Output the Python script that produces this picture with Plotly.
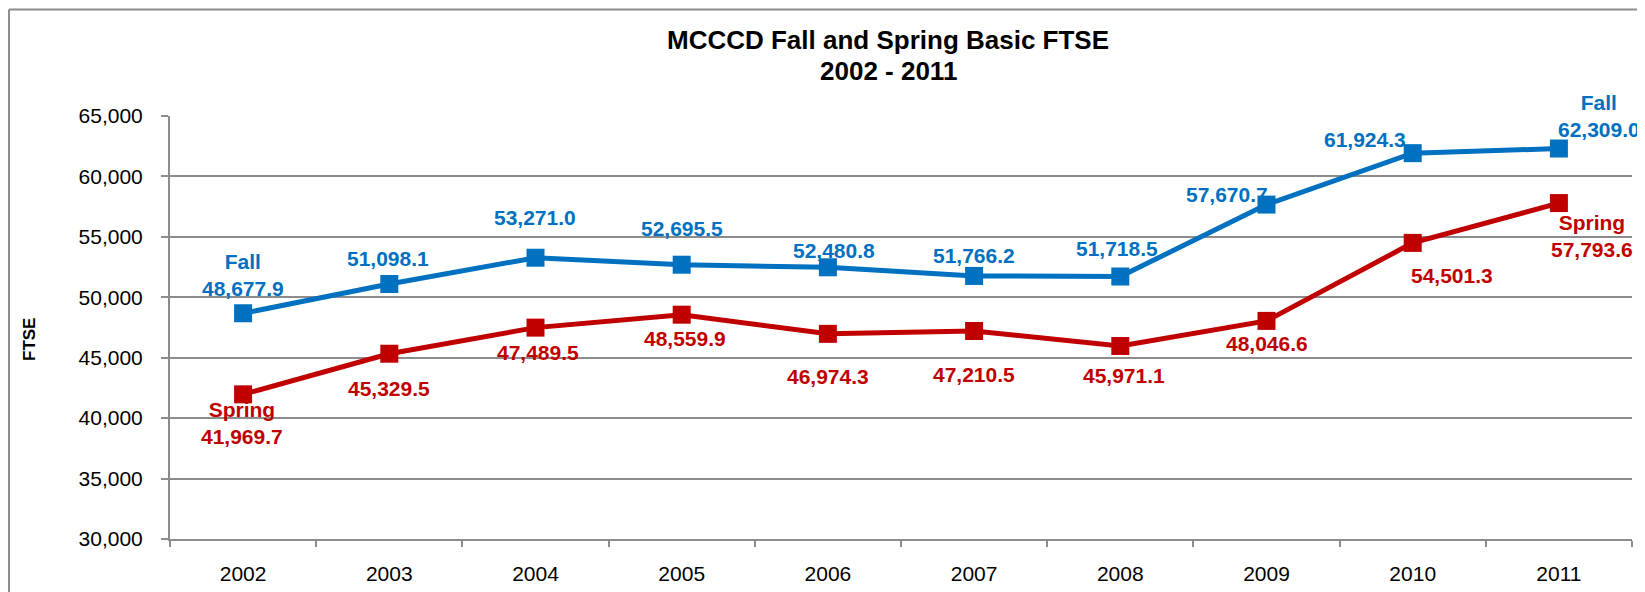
import plotly.graph_objects as go

years = ["2002", "2003", "2004", "2005", "2006", "2007", "2008", "2009", "2010", "2011"]
fall = [48677.9, 51098.1, 53271.0, 52695.5, 52480.8, 51766.2, 51718.5, 57670.7, 61924.3, 62309.0]
spring = [41969.7, 45329.5, 47489.5, 48559.9, 46974.3, 47210.5, 45971.1, 48046.6, 54501.3, 57793.6]
y_ticks = [30000, 35000, 40000, 45000, 50000, 55000, 60000, 65000]

title_line1 = "MCCCD Fall and Spring Basic FTSE"
title_line2 = "2002 - 2011"

BLUE = "#0070C0"
RED = "#C00000"
GRID = "#8c8c8c"
FONT = "Liberation Sans, Arial, sans-serif"

# label pixel offsets (dx, dy screen pixels; dy positive = down)
fall_off = [(0, -38), (-1, -26), (-1, -40), (0, -36), (6, -17), (0, -20), (-3, -28), (-40, -10), (-48, -14), (40, -33)]
spring_off = [(-1, 29), (0, 35), (2, 25), (3, 24), (0, 43), (0, 43), (4, 30), (0, 23), (39, 33), (33, 33)]

W, H = 1645, 592
OFF = 8  # page body margin
L, R, T, B = 162, 21, 108, 61

fig = go.Figure()
fig.add_trace(go.Scatter(x=years, y=fall, mode="lines+markers", name="Fall",
                         line=dict(color=BLUE, width=5),
                         marker=dict(symbol="square", size=18, color=BLUE),
                         cliponaxis=False))
fig.add_trace(go.Scatter(x=years, y=spring, mode="lines+markers", name="Spring",
                         line=dict(color=RED, width=5),
                         marker=dict(symbol="square", size=18, color=RED),
                         cliponaxis=False))

def fmt(v):
    return f"{v:,.1f}"

annotations = []
n = len(years)
for i, v in enumerate(fall):
    txt = fmt(v)
    if i == 0 or i == n - 1:
        txt = "Fall<br>" + txt
    dx, dy = fall_off[i]
    annotations.append(dict(x=i, y=v, xref="x", yref="y", text=f"<b>{txt}</b>", showarrow=False,
                            xshift=dx, yshift=-dy, xanchor="center", yanchor="middle",
                            font=dict(family=FONT, size=21, color=BLUE)))
for i, v in enumerate(spring):
    txt = fmt(v)
    if i == 0 or i == n - 1:
        txt = "Spring<br>" + txt
    dx, dy = spring_off[i]
    annotations.append(dict(x=i, y=v, xref="x", yref="y", text=f"<b>{txt}</b>", showarrow=False,
                            xshift=dx, yshift=-dy, xanchor="center", yanchor="middle",
                            font=dict(family=FONT, size=21, color=RED)))

pw = W - L - R
ph = H - T - B
def px(xpage):
    return (xpage - OFF - L) / pw
def py(ypage):
    return (H - B - (ypage - OFF)) / ph

# title lines
annotations.append(dict(x=px(888), y=py(40), xref="paper", yref="paper", text=f"<b>{title_line1}</b>",
                        showarrow=False, xanchor="center", yanchor="middle",
                        font=dict(family=FONT, size=26, color="black")))
annotations.append(dict(x=px(888), y=py(71), xref="paper", yref="paper", text=f"<b>{title_line2}</b>",
                        showarrow=False, xanchor="center", yanchor="middle",
                        font=dict(family=FONT, size=26, color="black")))
# y axis title
annotations.append(dict(x=px(29), y=py(340), xref="paper", yref="paper", text="<b>FTSE</b>",
                        showarrow=False, xanchor="center", yanchor="middle", textangle=-90,
                        font=dict(family=FONT, size=17, color="black")))

shapes = [
    dict(type="line", xref="paper", yref="paper", x0=px(9), x1=px(9), y0=py(650), y1=py(9.5),
         line=dict(color=GRID, width=2)),
    dict(type="line", xref="paper", yref="paper", x0=px(9), x1=px(1700), y0=py(9.5), y1=py(9.5),
         line=dict(color=GRID, width=2)),
]

fig.update_layout(
    width=W, height=H,
    margin=dict(l=L, r=R, t=T, b=B, pad=0),
    paper_bgcolor="white", plot_bgcolor="white",
    showlegend=False,
    annotations=annotations,
    shapes=shapes,
    font=dict(family=FONT, size=21, color="black"),
)
fig.update_xaxes(type="category", tickson="boundaries", ticks="outside", ticklen=6, tickwidth=2,
                 tickcolor=GRID, showline=True, linecolor=GRID, linewidth=2, showgrid=False,
                 tickfont=dict(family=FONT, size=21, color="black"), ticklabelstandoff=15,
                 range=[-0.5, 9.5], zeroline=False)
fig.update_yaxes(range=[30000, 65000], tickvals=y_ticks, tickformat=",d", ticks="outside", ticklen=7,
                 tickwidth=2, tickcolor=GRID, showline=True, linecolor=GRID, linewidth=2,
                 showgrid=True, gridcolor=GRID, gridwidth=2, zeroline=False,
                 tickfont=dict(family=FONT, size=21, color="black"), ticklabelstandoff=14)

fig.write_html("out.html")
